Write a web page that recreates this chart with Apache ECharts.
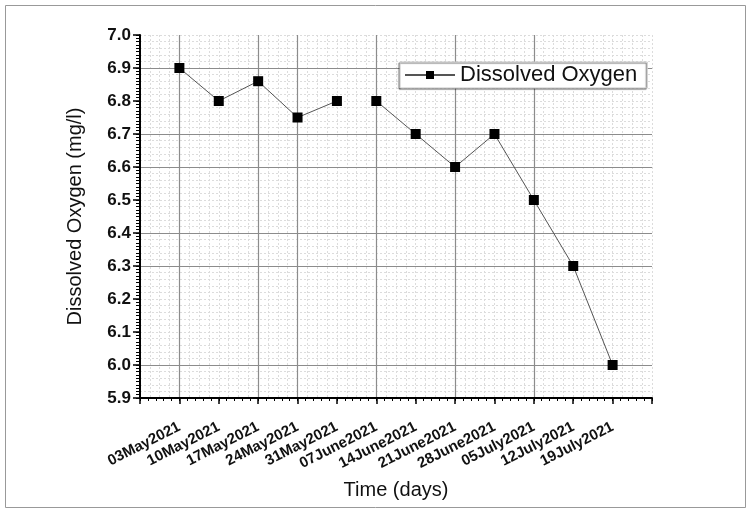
<!DOCTYPE html>
<html>
<head>
<meta charset="utf-8">
<script src="https://cdn.jsdelivr.net/npm/echarts@6/dist/echarts.min.js"></script>
<style>
  html, body { margin: 0; padding: 0; background: #fff; }
  #chart { width: 748px; height: 510px; }
</style>
</head>
<body>
<div id="chart"></div>
<script>
// Sampling dates (weekly) and measured dissolved oxygen
const dates = ['03May2021', '10May2021', '17May2021', '24May2021', '31May2021', '07June2021',
               '14June2021', '21June2021', '28June2021', '05July2021', '12July2021', '19July2021'];
const oxygen = [6.9, 6.8, 6.86, 6.75, 6.8, 6.8, 6.7, 6.6, 6.7, 6.5, 6.3, 6.0];
const yTicks = ['5.9', '6.0', '6.1', '6.2', '6.3', '6.4', '6.5', '6.6', '6.7', '6.8', '6.9', '7.0'];
// the trace is not joined between these two samples
const breakAfter = 4;

const seriesName = 'Dissolved Oxygen';
const pts = oxygen.map((v, i) => [i, v]);
const firstPart = pts.slice(0, breakAfter + 1);
const secondPart = pts.slice(breakAfter + 1);

const FONT = '"Liberation Sans", Arial, sans-serif';
const DARK = '#8c8c8c';
const NONE = 'rgba(0,0,0,0)';
const X_MIN = -1, X_MAX = 12, Y_MIN = 5.9, Y_MAX = 7.0;

const chart = echarts.init(document.getElementById('chart'), null, { renderer: 'canvas' });

const lineSeries = (data) => ({
  name: seriesName,
  type: 'line',
  xAxisIndex: 0,
  yAxisIndex: 0,
  data: data,
  symbol: 'rect',
  symbolSize: 10,
  itemStyle: { color: '#000' },
  lineStyle: { color: '#555', width: 1 },
  animation: false,
  z: 5
});

// helper axes: fine tick marks and the faint dotted background grid
const tickAxis = (min, max, interval, position, len) => ({
  type: 'value', min: min, max: max, interval: interval, position: position, z: 1,
  axisLine: { show: false, onZero: false },
  axisTick: { show: true, length: len, lineStyle: { color: '#000', width: 1 } },
  axisLabel: { show: false },
  splitLine: { show: false }
});
const dottedAxis = (min, max, interval, position) => ({
  type: 'value', min: min, max: max, interval: interval, position: position, z: 0,
  axisLine: { show: false, onZero: false },
  axisTick: { show: false },
  axisLabel: { show: false },
  splitLine: { show: true, lineStyle: { color: '#dcdcdc', width: 1, type: [2, 2] } }
});

chart.setOption({
  animation: false,
  backgroundColor: '#fff',
  graphic: [{
    type: 'rect',
    shape: { x: 5.5, y: 5.5, width: 740, height: 502 },
    style: { fill: NONE, stroke: '#999', lineWidth: 1 },
    silent: true,
    z: -10
  }],
  legend: {
    data: [seriesName],
    left: 400,
    top: 62,
    itemWidth: 50,
    itemHeight: 10,
    itemGap: 6,
    padding: [2, 10, 2, 4],
    backgroundColor: '#fff',
    borderColor: '#ccc',
    borderWidth: 1,
    shadowColor: 'rgba(0,0,0,0.6)',
    shadowBlur: 1,
    shadowOffsetX: -1,
    shadowOffsetY: 1,
    textStyle: { fontFamily: FONT, fontSize: 22, color: '#111' }
  },
  grid: { left: 140, right: 96, top: 35, bottom: 112, containLabel: false },
  xAxis: [{
    type: 'value',
    min: X_MIN,
    max: X_MAX,
    interval: 1,
    z: 2,
    name: 'Time (days)',
    nameLocation: 'middle',
    nameGap: 82,
    nameTextStyle: { fontFamily: FONT, fontSize: 20, color: '#111' },
    axisLine: { show: true, onZero: false, lineStyle: { color: '#000', width: 2 } },
    axisTick: { show: true, length: 6, lineStyle: { color: '#000', width: 1.5 } },
    axisLabel: {
      rotate: 27,
      margin: 28,
      fontFamily: FONT,
      fontSize: 15,
      fontWeight: 'bold',
      color: '#111',
      formatter: (v) => (v >= 0 && v < dates.length && Number.isInteger(v)) ? dates[v] : ''
    },
    splitLine: {
      show: true,
      lineStyle: {
        width: 1.2,
        color: [NONE, DARK, NONE, DARK, DARK, NONE, DARK, NONE, DARK, NONE, DARK, NONE, NONE, NONE]
      }
    }
  },
  dottedAxis(X_MIN, X_MAX, 0.25, 'top'),
  tickAxis(X_MIN, X_MAX, 0.2, 'bottom', 3)],
  yAxis: [{
    type: 'value',
    min: Y_MIN,
    max: Y_MAX,
    interval: 0.1,
    z: 2,
    name: 'Dissolved Oxygen (mg/l)',
    nameLocation: 'middle',
    nameGap: 55,
    nameTextStyle: { fontFamily: FONT, fontSize: 20, color: '#111' },
    axisLine: { show: true, onZero: false, lineStyle: { color: '#000', width: 2 } },
    axisTick: { show: true, length: 7, lineStyle: { color: '#000', width: 1.5 } },
    axisLabel: {
      margin: 9,
      fontFamily: FONT,
      fontSize: 17,
      fontWeight: 'bold',
      color: '#111',
      formatter: (v) => {
        const i = Math.round((v - Y_MIN) * 10);
        return yTicks[i] !== undefined ? yTicks[i] : '';
      }
    },
    splitLine: {
      show: true,
      lineStyle: {
        width: 1.2,
        color: [NONE, DARK, NONE, NONE, DARK, DARK, NONE, DARK, DARK, NONE, DARK, NONE]
      }
    }
  },
  dottedAxis(Y_MIN, Y_MAX, 0.02, 'right'),
  tickAxis(Y_MIN, Y_MAX, 0.01, 'left', 4)],
  series: [lineSeries(firstPart), lineSeries(secondPart)]
});
</script>
</body>
</html>
